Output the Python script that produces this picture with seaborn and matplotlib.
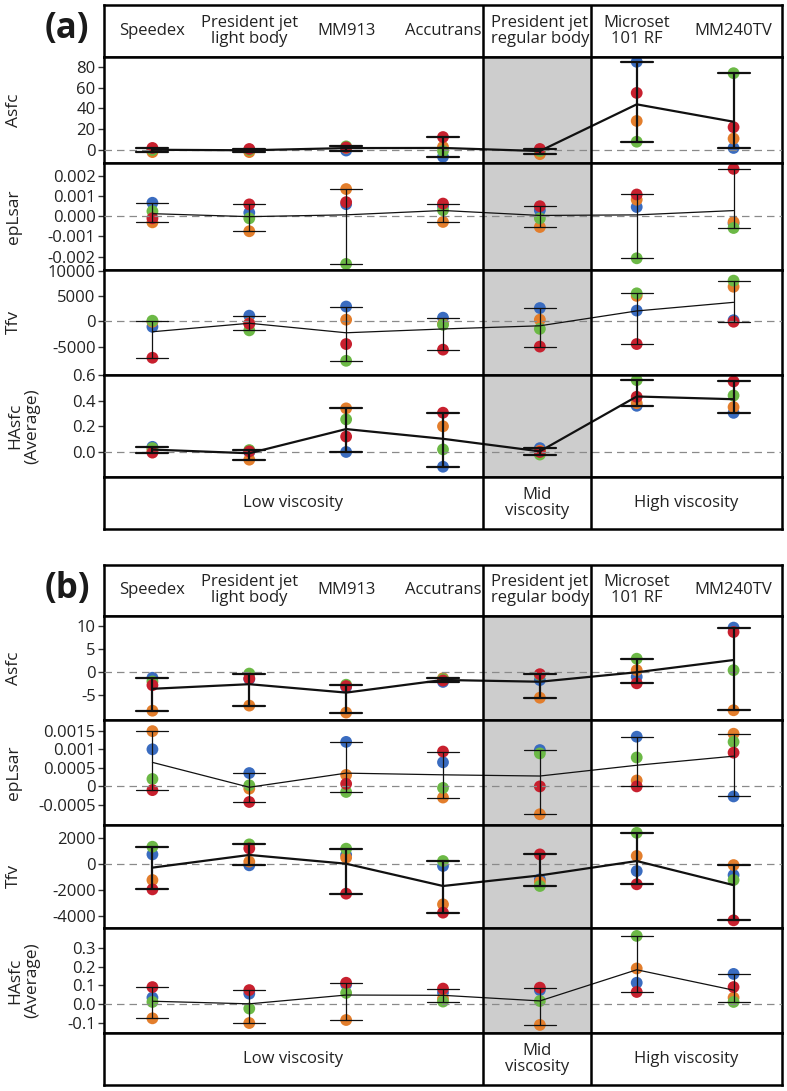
import matplotlib

matplotlib.use("Agg")

import matplotlib.pyplot as plt
import pandas as pd
import seaborn as sns

# --- dados (ordem dos especimes: azul, laranja, verde, vermelho) ---
materials = ["Speedex", "President jet\nlight body", "MM913", "Accutrans",
             "President jet\nregular body", "Microset\n101 RF", "MM240TV"]
specimens = ["S1", "S2", "S3", "S4"]
spec_colors = ["#3a6cc0", "#e37e2c", "#6cb946", "#c8202e"]
groups = ["Low viscosity", "Mid\nviscosity", "High viscosity"]

a_asfc = [[1, 0, -0.5, -6.5, 0, 85, 2],
          [-2, -2, 2, 3, -4, 28, 11],
          [0, 0, 3.5, -1, -1, 8, 74],
          [2, 1, 2.5, 12.5, 1, 55, 22]]
a_eplsar = [[0.00067, 0.00018, 0.0006, 0.0005, 0.0003, 0.00046, -0.00036],
            [-0.0003, -0.00074, 0.00135, -0.00028, -0.00053, 0.00082, -0.00028],
            [0.00025, -0.0001, -0.00236, 0.0003, -0.0001, -0.00208, -0.00058],
            [-0.0001, 0.00059, 0.0007, 0.00063, 0.0005, 0.00108, 0.00235]]
a_tfv = [[-1100, 1100, 2900, 700, 2600, 2100, 200],
         [-100, -400, 300, -500, 300, 5000, 6800],
         [100, -1800, -7800, -700, -1500, 5500, 8000],
         [-7200, -500, -4500, -5600, -5000, -4500, -100]]
a_hasfc = [[0.04, 0.0, 0.0, -0.115, 0.03, 0.36, 0.305],
           [0.01, -0.06, 0.34, 0.2, 0.01, 0.38, 0.35],
           [0.03, 0.015, 0.254, 0.02, -0.02, 0.56, 0.44],
           [-0.005, 0.005, 0.12, 0.306, 0.0, 0.43, 0.55]]

b_asfc = [[-1.2, -1.5, -3.2, -2.1, -1.7, -1.0, 9.6],
          [-8.3, -7.2, -8.7, -1.3, -5.5, 0.43, -8.2],
          [-2.0, -0.3, -2.7, -1.5, -0.6, 2.9, 0.43],
          [-2.8, -1.35, -3.0, -1.8, -0.43, -2.4, 8.65]]
b_eplsar = [[0.001, 0.00036, 0.0012, 0.00065, 0.00098, 0.00134, -0.00027],
            [0.00149, -0.00006, 0.00031, -0.0003, -0.00075, 0.00016, 0.00142],
            [0.0002, 0.00003, -0.00015, -0.00004, 0.00089, 0.00078, 0.0012],
            [-0.0001, -0.00042, 0.00007, 0.00094, 0.0, 0.0, 0.00091]]
b_tfv = [[740, -100, 700, -150, -1180, -540, -850],
         [-1230, 180, 490, -3100, -1380, 620, -80],
         [1330, 1510, 1180, 230, -1690, 2400, -1230],
         [-1950, 1200, -2280, -3740, 740, -1560, -4330]]
b_hasfc = [[0.035, 0.056, 0.105, 0.062, 0.075, 0.114, 0.161],
           [-0.075, -0.1, -0.084, 0.03, -0.11, 0.19, 0.035],
           [0.012, -0.023, 0.06, 0.014, 0.017, 0.363, 0.012],
           [0.091, 0.075, 0.114, 0.083, 0.088, 0.065, 0.091]]

a_ticks = [[0, 20, 40, 60, 80],
           [-0.002, -0.001, 0, 0.001, 0.002],
           [-5000, 0, 5000, 10000],
           [0, 0.2, 0.4, 0.6]]
a_ticklabels = [["0", "20", "40", "60", "80"],
                ["-0.002", "-0.001", "0.000", "0.001", "0.002"],
                ["-5000", "0", "5000", "10000"],
                ["0.0", "0.2", "0.4", "0.6"]]
b_ticks = [[-5, 0, 5, 10],
           [-0.0005, 0, 0.0005, 0.001, 0.0015],
           [-4000, -2000, 0, 2000],
           [-0.1, 0, 0.1, 0.2, 0.3]]
b_ticklabels = [["-5", "0", "5", "10"],
                ["-0.0005", "0", "0.0005", "0.001", "0.0015"],
                ["-4000", "-2000", "0", "2000"],
                ["-0.1", "0.0", "0.1", "0.2", "0.3"]]
row_names = ["Asfc", "epLsar", "Tfv", "HAsfc\n(Average)"]

# --- layout (pixels da figura 787x1091) ---
W, H = 787, 1091
L, R = 104, 782
DIV = (3.41, 4.53)
XLIM = (-0.5, 6.5)
TXT = "#222222"

sns.set_theme(style="ticks")
plt.rcParams["font.family"] = ["Open Sans", "DejaVu Sans"]


def rect(top, bottom):
    return [L / W, 1 - bottom / H, (R - L) / W, (bottom - top) / H]


def frame(ax):
    for sp in ax.spines.values():
        sp.set_visible(True)
        sp.set_color("black")
        sp.set_linewidth(1.8)
    ax.set_xlim(*XLIM)


def long_df(values):
    rows = []
    for spec, vals in zip(specimens, values):
        for mat, v in zip(materials, vals):
            rows.append({"material": mat, "specimen": spec, "value": v})
    return pd.DataFrame(rows)


def draw_panel(fig, label, header, rows, footer, datasets, ylims, ticks, ticklabels, lws):
    hax = fig.add_axes(rect(*header))
    frame(hax)
    hax.set_xticks([])
    hax.set_yticks([])
    for i, m in enumerate(materials):
        hax.text(i, 0.5, m, ha="center", va="center", fontsize=12, color=TXT,
                 linespacing=1.0, transform=hax.get_xaxis_transform())
    for d in DIV:
        hax.axvline(d, color="black", lw=1.8)
    fig.text(67 / W, 1 - (header[0] + 24) / H, label, fontsize=25, fontweight="bold",
             ha="center", va="center", color="#1a1a1a")

    for (top, bottom), vals, ylim, tk, tl, lw, name in zip(
            rows, datasets, ylims, ticks, ticklabels, lws, row_names):
        ax = fig.add_axes(rect(top, bottom))
        df = long_df(vals)
        ax.axvspan(*DIV, color="#cdcdcd", zorder=0, lw=0)
        ax.axhline(0, color="#8a8a8a", ls=(0, (6, 4)), lw=0.9, zorder=0.5)
        sns.stripplot(data=df, x="material", y="value", hue="specimen",
                      order=materials, hue_order=specimens, palette=spec_colors,
                      jitter=False, dodge=False, size=8.5, linewidth=0,
                      legend=False, ax=ax, zorder=2)
        sns.pointplot(data=df, x="material", y="value", order=materials,
                      errorbar=("pi", 100), capsize=0.33, color="#111111",
                      markersize=0, markeredgewidth=0, linewidth=lw,
                      err_kws={"linewidth": lw}, ax=ax)
        for line in ax.lines:
            line.set_zorder(3)
        for d in DIV:
            ax.axvline(d, color="black", lw=1.8, zorder=4)
        frame(ax)
        ax.set_ylim(*ylim)
        ax.set_xticks([])
        ax.set_yticks(tk)
        ax.set_yticklabels(tl)
        ax.set_xlabel("")
        ax.set_ylabel("")
        ax.tick_params(axis="y", direction="out", length=4, width=1, color="#333333",
                       labelsize=12, labelcolor=TXT, pad=2)
        xlab = 24 if "\n" in name else 14
        fig.text(xlab / W, 1 - (top + bottom) / 2 / H, name, rotation=90, fontsize=12.5,
                 ha="center", va="center", color=TXT, linespacing=1.1)

    fax = fig.add_axes(rect(*footer))
    frame(fax)
    fax.set_xticks([])
    fax.set_yticks([])
    for d in DIV:
        fax.axvline(d, color="black", lw=1.8)
    centers = [(XLIM[0] + DIV[0]) / 2, (DIV[0] + DIV[1]) / 2, (DIV[1] + XLIM[1]) / 2]
    for c, g in zip(centers, groups):
        fax.text(c, 0.5, g, ha="center", va="center", fontsize=12, color=TXT,
                 linespacing=1.0, transform=fax.get_xaxis_transform())


fig = plt.figure(figsize=(W / 100, H / 100), dpi=100)

draw_panel(fig, "(a)", (5, 57),
           [(57, 163), (163, 270), (270, 375), (375, 477)], (477, 529),
           [a_asfc, a_eplsar, a_tfv, a_hasfc],
           [(-12.5, 89.6), (-0.00266, 0.00264), (-10600, 10100), (-0.195, 0.6)],
           a_ticks, a_ticklabels, [1.6, 0.9, 0.9, 1.6])

draw_panel(fig, "(b)", (565, 616),
           [(616, 720), (720, 825), (825, 928), (928, 1033)], (1033, 1085),
           [b_asfc, b_eplsar, b_tfv, b_hasfc],
           [(-10.3, 12.1), (-0.00104, 0.00179), (-4920, 3000), (-0.153, 0.405)],
           b_ticks, b_ticklabels, [1.6, 0.9, 1.6, 0.9])

fig.savefig("out.png", dpi=100)
plt.close(fig)
